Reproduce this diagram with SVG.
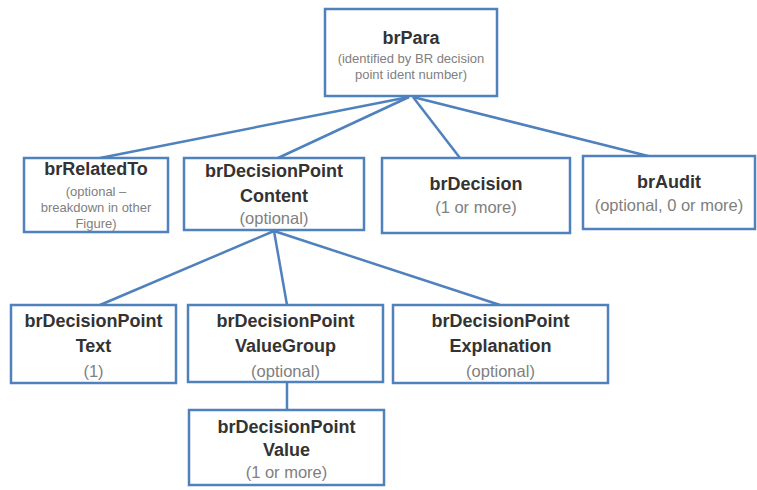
<svg xmlns="http://www.w3.org/2000/svg" width="757" height="490" viewBox="0 0 757 490">
<style>
.box{fill:#ffffff;stroke:#4f81bd;stroke-width:2.5}
.conn{stroke:#4f81bd;stroke-width:2.5;fill:none}
.t{font-family:"Liberation Sans",Arial,sans-serif;font-weight:bold;font-size:18px;fill:#333333;text-anchor:middle}
.s{font-family:"Liberation Sans",Arial,sans-serif;font-size:16.5px;fill:#808080;text-anchor:middle}
.xs{font-family:"Liberation Sans",Arial,sans-serif;font-size:13px;fill:#808080;text-anchor:middle}
</style>
<rect width="757" height="490" fill="#ffffff"/>
<g id="connectors">
<line class="conn" x1="409" y1="97" x2="100" y2="158"/>
<line class="conn" x1="409" y1="97" x2="278" y2="158"/>
<line class="conn" x1="413" y1="97" x2="460" y2="158"/>
<line class="conn" x1="413" y1="97" x2="652" y2="157"/>
<line class="conn" x1="274" y1="231" x2="100" y2="305"/>
<line class="conn" x1="274" y1="231" x2="287" y2="305"/>
<line class="conn" x1="274" y1="231" x2="500" y2="305"/>
<line class="conn" x1="287" y1="382" x2="287" y2="410"/>
</g>
<g id="brPara">
<rect class="box" x="325" y="9" width="172" height="87"/>
<text class="t" x="411" y="44">brPara</text>
<text class="xs" x="411" y="63">(identified by BR decision</text>
<text class="xs" x="411" y="79">point ident number)</text>
</g>
<g id="brRelatedTo">
<rect class="box" x="24" y="158" width="144" height="74"/>
<text class="t" x="96" y="175">brRelatedTo</text>
<text class="xs" x="96" y="196">(optional –</text>
<text class="xs" x="96" y="212">breakdown in other</text>
<text class="xs" x="96" y="228">Figure)</text>
</g>
<g id="brDecisionPointContent">
<rect class="box" x="184" y="158" width="180" height="72"/>
<text class="t" x="274" y="177">brDecisionPoint</text>
<text class="t" x="274" y="202">Content</text>
<text class="s" x="274" y="224">(optional)</text>
</g>
<g id="brDecision">
<rect class="box" x="382" y="158" width="188" height="75"/>
<text class="t" x="476" y="190">brDecision</text>
<text class="s" x="476" y="213">(1 or more)</text>
</g>
<g id="brAudit">
<rect class="box" x="583" y="156" width="172" height="73"/>
<text class="t" x="669" y="188">brAudit</text>
<text class="s" x="669" y="211">(optional, 0 or more)</text>
</g>
<g id="brDecisionPointText">
<rect class="box" x="11" y="305" width="165" height="78"/>
<text class="t" x="93.500" y="327">brDecisionPoint</text>
<text class="t" x="93.500" y="352">Text</text>
<text class="s" x="93.500" y="377">(1)</text>
</g>
<g id="brDecisionPointValueGroup">
<rect class="box" x="188" y="305" width="195" height="77"/>
<text class="t" x="285.500" y="327">brDecisionPoint</text>
<text class="t" x="285.500" y="352">ValueGroup</text>
<text class="s" x="285.500" y="377">(optional)</text>
</g>
<g id="brDecisionPointExplanation">
<rect class="box" x="393" y="305" width="215" height="78"/>
<text class="t" x="500.500" y="327">brDecisionPoint</text>
<text class="t" x="500.500" y="352">Explanation</text>
<text class="s" x="500.500" y="377">(optional)</text>
</g>
<g id="brDecisionPointValue">
<rect class="box" x="189" y="410" width="195" height="75"/>
<text class="t" x="286.500" y="433">brDecisionPoint</text>
<text class="t" x="286.500" y="456">Value</text>
<text class="s" x="286.500" y="478">(1 or more)</text>
</g>
</svg>
